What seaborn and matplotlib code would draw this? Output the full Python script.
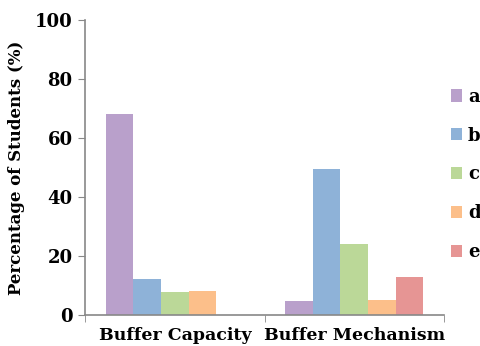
import pandas as pd
import seaborn as sns
import matplotlib.pyplot as plt
from matplotlib.ticker import FixedLocator

categories = ["Buffer Capacity", "Buffer Mechanism"]
options = ["a", "b", "c", "d", "e"]
capacity = [68, 12.2, 7.9, 8.2, 0]
mechanism = [4.8, 49.4, 24.1, 5.1, 12.8]
colors = ["#B9A0CB", "#8EB2D8", "#BBD898", "#FCBF8A", "#E69594"]

df = pd.DataFrame({
    "category": [categories[0]] * 5 + [categories[1]] * 5,
    "option": options * 2,
    "value": capacity + mechanism,
})

sns.set_style("white")
plt.rcParams["font.family"] = "DejaVu Serif"
plt.rcParams["font.weight"] = "bold"
plt.rcParams["text.color"] = "black"
plt.rcParams["axes.labelcolor"] = "black"
plt.rcParams["xtick.color"] = "black"
plt.rcParams["ytick.color"] = "black"

fig = plt.figure(figsize=(4.81, 3.46), dpi=100)
ax = fig.add_axes([0.177, 0.09, 0.746, 0.852])
sns.barplot(data=df, x="category", y="value", hue="option", palette=colors,
            width=0.77, linewidth=0, saturation=1, ax=ax)

ax.set_xlim(-0.5, 1.5)
ax.set_ylim(0, 100)
ax.set_yticks([0, 20, 40, 60, 80, 100])
ax.set_xlabel("")
ax.set_ylabel("Percentage of Students (%)", fontsize=12, fontweight="bold", labelpad=7)
ax.tick_params(axis="y", labelsize=13, length=5, color="#888888", direction="out", left=True, pad=4)
ax.tick_params(axis="x", labelsize=12.5, length=0, pad=9)
ax.xaxis.set_minor_locator(FixedLocator([-0.5, 0.5, 1.5]))
ax.tick_params(axis="x", which="minor", length=5, color="#888888", bottom=True, direction="out")
for lab in ax.get_xticklabels() + ax.get_yticklabels():
    lab.set_fontweight("bold")

sns.despine(ax=ax)
for s in ["left", "bottom"]:
    ax.spines[s].set_color("#888888")
    ax.spines[s].set_linewidth(1.2)

ax.legend(loc="center left", bbox_to_anchor=(0.937, 0.496), bbox_transform=fig.transFigure,
          frameon=False, prop={"size": 13, "weight": "bold"},
          handlelength=0.65, handleheight=0.65, handletextpad=0.3, labelspacing=1.15,
          borderaxespad=0, borderpad=0)

fig.savefig("out.png", dpi=100)
